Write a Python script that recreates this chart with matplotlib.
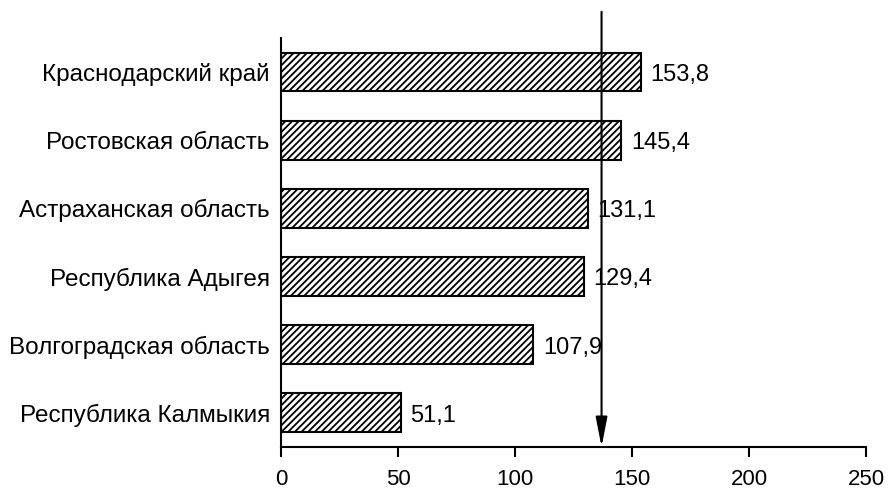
import matplotlib.pyplot as plt

plt.rcParams['font.family'] = ['Liberation Sans', 'DejaVu Sans']
plt.rcParams['hatch.linewidth'] = 1.3

regions = ["Республика Калмыкия", "Волгоградская область", "Республика Адыгея",
           "Астраханская область", "Ростовская область", "Краснодарский край"]
values = [51.1, 107.9, 129.4, 131.1, 145.4, 153.8]
value_labels = ["51,1", "107,9", "129,4", "131,1", "145,4", "153,8"]
average = 137.0

fig = plt.figure(figsize=(8.88, 4.92), dpi=100)
ax = fig.add_axes([0.3164, 0.0915, 0.6588, 0.8313])

y = list(range(len(regions)))
ax.barh(y, values, height=0.57, color='white', edgecolor='black',
        linewidth=1.5, hatch='/////')

for yi, v, lab in zip(y, values, value_labels):
    ax.annotate(lab, (v, yi), xytext=(7, -2), textcoords='offset points',
                ha='left', va='center', fontsize=17)

# arrow marking the average level
ax.annotate('', xy=(average, -0.5), xycoords='data',
            xytext=(average, 1.064), textcoords=('data', 'axes fraction'),
            arrowprops=dict(arrowstyle='-|>,head_length=1.8,head_width=0.35',
                            color='black', lw=1.5, mutation_scale=10,
                            shrinkA=0, shrinkB=0),
            annotation_clip=False)

ax.set_xlim(0, 250)
ax.set_ylim(-0.5, 5.5)
ax.set_xticks([0, 50, 100, 150, 200, 250])
ax.set_yticks(y)
ax.set_yticklabels(regions)

for s in ['top', 'right']:
    ax.spines[s].set_visible(False)
for s in ['left', 'bottom']:
    ax.spines[s].set_linewidth(1.5)

ax.tick_params(axis='y', length=0, pad=8, labelsize=17.5)
ax.tick_params(axis='x', direction='out', length=7, width=1.5, pad=9, labelsize=16)

fig.savefig('out.png', dpi=100)
